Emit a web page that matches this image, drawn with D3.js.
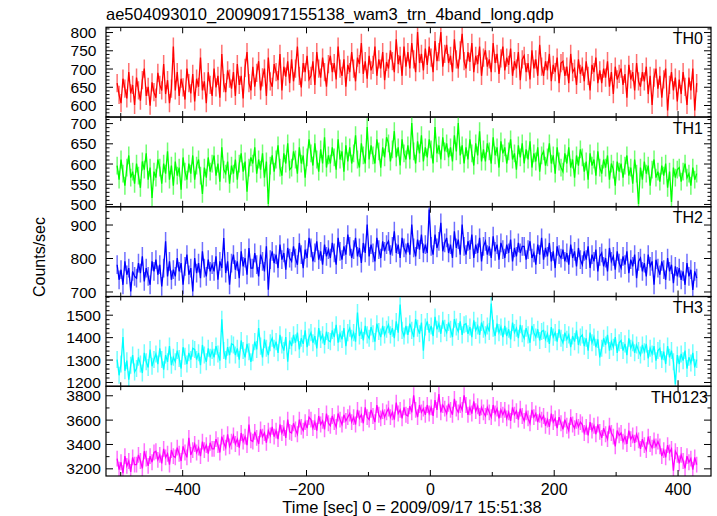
<!DOCTYPE html>
<html><head><meta charset="utf-8">
<script src="https://cdn.jsdelivr.net/npm/d3@7"></script>
<style>
body{margin:0;background:#fff}
svg{display:block}
text{font-family:"Liberation Sans",Arial,Helvetica,sans-serif;fill:#000}
</style>
</head><body>
<svg id="c" width="717" height="516"></svg>
<script>
// ---- data ----
const tStart = -505, tStep = 3.13;   // bin start time and spacing [sec]

const th0 = [
660,628,605,672,645,618,690,632,655,600,
675,640,612,668,700,625,650,598,662,635,
620,688,655,640,712,630,668,605,645,760,
640,690,625,672,648,615,700,660,632,685,
610,672,650,730,640,665,605,690,655,625,
700,648,680,620,740,660,635,695,672,645,
690,625,712,655,680,618,702,745,660,640,
705,650,688,720,640,676,700,625,730,665,
650,712,690,668,740,640,705,678,720,660,
725,665,700,760,680,648,715,690,735,670,
680,720,655,745,700,675,730,690,650,712,
735,690,715,670,760,700,680,725,650,710,
690,745,700,665,730,712,770,685,720,672,
735,695,710,760,680,725,700,745,668,718,
700,750,720,690,780,712,735,680,760,705,
745,700,770,725,690,800,715,740,695,755,
710,760,730,690,775,720,745,800,705,740,
765,715,735,690,780,725,700,750,795,720,
700,745,718,770,690,735,712,760,680,730,
750,705,725,690,770,715,740,685,728,760,
695,730,710,755,680,720,700,745,668,725,
735,690,715,670,750,700,725,680,765,705,
680,720,695,740,665,710,690,730,660,715,
720,680,705,660,740,690,700,655,725,685,
705,665,720,680,640,710,690,730,660,695,
660,700,675,720,650,690,630,705,670,685,
700,655,685,620,710,670,690,640,715,665,
650,690,665,705,630,680,600,675,700,645,
680,620,670,700,585,655,690,640,675,610,
670,630,690,650,600,675,640,700,585,660];

const th1 = [
595,560,610,575,545,590,620,565,580,550,
600,570,540,605,585,625,560,590,515,580,
565,610,590,550,600,575,630,560,595,545,
605,570,590,535,615,580,560,600,575,620,
560,595,610,570,525,590,565,615,580,600,
620,570,600,555,640,585,575,605,550,595,
575,610,560,600,625,580,605,530,590,615,
600,640,575,610,585,625,565,605,500,595,
620,580,610,645,590,570,625,600,650,585,
590,630,610,575,640,600,620,565,615,660,
625,595,650,610,580,635,600,665,590,620,
600,640,615,585,660,610,630,580,645,605,
640,600,625,670,610,590,650,620,600,690,
610,645,620,600,660,630,590,640,615,665,
650,605,635,680,615,640,595,660,625,610,
645,610,700,630,600,655,625,670,605,640,
615,660,635,600,690,625,645,610,665,630,
650,615,640,605,670,630,700,620,645,600,
640,610,660,625,595,650,620,680,605,635,
605,650,630,600,665,620,640,590,655,625,
640,600,630,660,610,625,585,645,615,650,
600,635,610,655,590,625,605,640,580,620,
630,595,615,650,600,620,575,640,605,590,
580,625,600,640,590,610,565,620,595,635,
615,580,605,560,625,595,610,570,630,590,
575,610,590,620,560,600,585,545,605,580,
600,565,595,620,570,590,550,610,575,500,
590,560,605,575,595,545,585,610,565,580,
555,595,570,600,540,580,505,590,565,585,
590,555,580,600,565,575,545,590,560,575];

const th2 = [
780,735,765,720,790,750,770,700,760,745,
740,785,755,805,730,770,745,720,790,760,
795,750,780,715,770,850,745,790,735,765,
745,800,760,785,720,775,810,750,770,700,
800,755,785,740,820,770,745,795,760,780,
760,805,735,790,770,860,755,790,720,785,
810,765,790,740,820,775,800,750,830,770,
770,815,780,745,810,790,760,835,705,795,
820,785,810,770,840,795,815,765,830,800,
790,835,800,780,845,810,770,825,800,860,
830,790,815,850,795,820,780,840,805,825,
800,845,815,780,860,820,795,835,810,870,
835,800,825,860,805,830,785,845,815,900,
805,840,815,790,860,825,800,850,820,840,
850,810,835,880,815,840,800,860,830,815,
845,810,900,830,805,855,825,870,815,840,
815,945,835,810,870,830,850,905,820,845,
860,815,840,800,880,830,855,810,900,835,
810,850,825,870,800,840,815,860,790,835,
850,810,835,800,865,820,840,795,845,825,
800,840,815,855,790,830,805,845,815,835,
835,795,825,850,800,815,780,840,810,860,
795,830,805,845,790,820,770,835,810,800,
825,790,815,780,840,800,820,775,830,795,
780,820,795,835,770,810,790,825,760,805,
815,775,800,760,830,790,805,765,820,785,
770,805,780,820,755,795,775,810,740,790,
800,760,785,745,810,775,790,720,795,770,
750,790,765,735,800,760,780,725,775,745,
770,735,760,720,785,745,765,705,760,740];

const th3 = [
1300,1230,1280,1400,1250,1295,1210,1275,1320,1245,
1260,1310,1280,1240,1330,1290,1265,1345,1270,1300,
1325,1280,1350,1300,1255,1320,1290,1360,1275,1310,
1290,1340,1305,1260,1355,1315,1280,1330,1300,1350,
1345,1300,1330,1275,1365,1320,1290,1350,1310,1340,
1310,1360,1325,1295,1480,1340,1300,1355,1320,1370,
1365,1320,1350,1300,1385,1340,1310,1370,1335,1290,
1330,1380,1345,1440,1360,1310,1390,1350,1320,1375,
1395,1350,1380,1330,1410,1365,1340,1400,1290,1385,
1360,1410,1375,1420,1345,1395,1370,1430,1355,1400,
1420,1375,1405,1350,1440,1390,1410,1365,1425,1385,
1380,1430,1400,1455,1375,1415,1390,1440,1360,1420,
1440,1395,1420,1380,1510,1405,1430,1385,1450,1410,
1395,1445,1415,1380,1460,1425,1400,1450,1410,1435,
1455,1410,1440,1395,1470,1420,1545,1430,1405,1450,
1410,1460,1430,1400,1480,1440,1415,1465,1340,1445,
1470,1420,1450,1405,1490,1435,1460,1415,1475,1440,
1420,1465,1435,1400,1480,1445,1425,1470,1410,1455,
1460,1415,1445,1400,1475,1430,1450,1410,1465,1435,
1410,1450,1425,1550,1440,1405,1460,1420,1445,1400,
1450,1405,1435,1390,1465,1420,1440,1395,1455,1415,
1395,1440,1410,1375,1450,1420,1400,1435,1385,1425,
1430,1390,1415,1370,1445,1400,1420,1380,1435,1395,
1375,1420,1390,1410,1355,1405,1380,1430,1365,1400,
1410,1360,1395,1340,1420,1375,1400,1355,1390,1310,
1350,1395,1365,1410,1340,1380,1355,1400,1330,1375,
1385,1340,1370,1320,1395,1350,1375,1330,1365,1340,
1320,1365,1335,1370,1305,1350,1325,1360,1295,1340,
1350,1300,1335,1280,1360,1310,1340,1290,1190,1320,
1280,1325,1295,1340,1260,1310,1285,1330,1265,1300];

const th0123 = [
3280,3190,3250,3160,3300,3220,3260,3170,3290,3230,
3230,3310,3260,3200,3340,3280,3220,3300,3250,3330,
3340,3270,3310,3240,3360,3290,3320,3230,3350,3300,
3290,3370,3320,3260,3380,3330,3290,3450,3310,3350,
3400,3330,3370,3300,3420,3350,3390,3320,3410,3360,
3360,3440,3390,3330,3460,3410,3370,3480,3380,3420,
3470,3400,3440,3370,3490,3420,3460,3390,3560,3430,
3420,3500,3450,3400,3520,3460,3490,3410,3510,3470,
3540,3460,3510,3440,3560,3490,3530,3450,3600,3500,
3490,3570,3520,3480,3600,3540,3510,3580,3530,3620,
3600,3530,3580,3510,3630,3560,3590,3520,3650,3570,
3550,3630,3580,3540,3650,3600,3560,3640,3590,3620,
3650,3580,3620,3560,3680,3610,3640,3570,3700,3620,
3600,3680,3630,3580,3720,3640,3610,3670,3620,3660,
3690,3620,3660,3600,3740,3650,3680,3610,3700,3640,
3630,3710,3660,3800,3680,3620,3720,3660,3690,3640,
3720,3650,3700,3630,3760,3680,3810,3660,3720,3690,
3650,3730,3680,3640,3770,3690,3660,3720,3680,3800,
3720,3640,3700,3650,3750,3670,3710,3630,3700,3660,
3630,3700,3660,3620,3720,3650,3690,3610,3680,3640,
3680,3610,3660,3590,3700,3640,3670,3600,3690,3630,
3590,3660,3610,3570,3680,3620,3650,3580,3640,3600,
3630,3550,3600,3540,3650,3580,3610,3530,3620,3570,
3520,3600,3550,3510,3620,3560,3530,3590,3540,3580,
3560,3490,3540,3470,3580,3510,3550,3480,3560,3500,
3450,3530,3480,3440,3550,3490,3460,3380,3510,3470,
3490,3420,3460,3400,3510,3440,3470,3410,3480,3430,
3360,3440,3390,3350,3460,3400,3370,3430,3380,3420,
3380,3300,3350,3290,3390,3330,3360,3180,3340,3310,
3240,3310,3260,3200,3300,3250,3280,3190,3290,3230];

const seriesValues = [th0, th1, th2, th3, th0123];
const panelNames = ["TH0", "TH1", "TH2", "TH3", "TH0123"];
const errs = [25, 22, 28, 38, 65];                 // 1-sigma error per bin
const yDomains = [[567, 813], [493, 715], [685, 953], [1181, 1581], [3137, 3874]];
const yMajor = [50, 50, 100, 100, 200];
const yMinor = [10, 10, 20, 20, 100];
const xDomain = [-523, 454];
const xMajorTicks = [-400, -200, 0, 200, 400];
const xMinorTicks = [-500, -300, -100, 100, 300];
const title = "ae504093010_20090917155138_wam3_trn_4band_long.qdp";
const xLabel = "Time [sec] 0 = 2009/09/17 15:51:38";
const yLabel = "Counts/sec";

// ---- styles / layout ----
const lineColors = ["#ff0000", "#00ff00", "#0000ff", "#00ffff", "#ff00ff"];
const errColors  = ["#ff7070", "#70ff70", "#7070ff", "#70ffff", "#ff70ff"];
const L = 106, R = 711, T = 27.3, B = 476;
const nP = panelNames.length, pH = (B - T) / nP;

const svg = d3.select("#c");
const x = d3.scaleLinear().domain(xDomain).range([L, R]);

svg.append("text").attr("x", 106).attr("y", 20).attr("font-size", 16.5).text(title);

panelNames.forEach((name, p) => {
  const top = T + p * pH, bot = top + pH;
  const y = d3.scaleLinear().domain(yDomains[p]).range([bot, top]);
  const vals = seriesValues[p];
  const times = vals.map((_, i) => tStart + i * tStep);
  const g = svg.append("g");

  const cid = "clip" + p;
  svg.append("clipPath").attr("id", cid).append("rect")
     .attr("x", L).attr("y", top).attr("width", R - L).attr("height", pH);
  const dg = g.append("g").attr("clip-path", `url(#${cid})`);

  dg.selectAll("line.err").data(vals).join("line")
    .attr("x1", (d, i) => x(times[i])).attr("x2", (d, i) => x(times[i]))
    .attr("y1", d => y(d - errs[p])).attr("y2", d => y(d + errs[p]))
    .attr("stroke", errColors[p]).attr("stroke-width", 1.5);

  dg.append("path").datum(vals)
    .attr("d", d3.line().x((d, i) => x(times[i])).y(d => y(d)))
    .attr("fill", "none").attr("stroke", lineColors[p]).attr("stroke-width", 1.3);

  // y ticks
  const [d0, d1] = yDomains[p];
  const minorVals = d3.range(Math.ceil(d0 / yMinor[p]) * yMinor[p], d1, yMinor[p])
                      .filter(v => v % yMajor[p] !== 0);
  const majorVals = d3.range(Math.ceil(d0 / yMajor[p]) * yMajor[p], d1, yMajor[p]);
  const rmDomain = s => s.select(".domain").remove();

  g.append("g").attr("transform", `translate(${L},0)`)
    .call(d3.axisLeft(y).tickValues(majorVals).tickSize(-7).tickPadding(0).tickFormat(d3.format("d")))
    .call(rmDomain)
    .call(s => {
      s.attr("font-family", null);
      s.selectAll("text").attr("x", -22.5).attr("text-anchor", "middle")
       .attr("font-size", 15.5).attr("dy", "0.36em");
    });
  g.append("g").attr("transform", `translate(${L},0)`)
    .call(d3.axisLeft(y).tickValues(minorVals).tickSize(-3.5).tickFormat(""))
    .call(rmDomain);
  g.append("g").attr("transform", `translate(${R},0)`)
    .call(d3.axisRight(y).tickValues(majorVals).tickSize(-7).tickFormat(""))
    .call(rmDomain);
  g.append("g").attr("transform", `translate(${R},0)`)
    .call(d3.axisRight(y).tickValues(minorVals).tickSize(-3.5).tickFormat(""))
    .call(rmDomain);

  // x ticks top and bottom of each panel
  g.append("g").attr("transform", `translate(0,${top})`)
    .call(d3.axisTop(x).tickValues(xMajorTicks).tickSize(-6).tickFormat("")).call(rmDomain);
  g.append("g").attr("transform", `translate(0,${top})`)
    .call(d3.axisTop(x).tickValues(xMinorTicks).tickSize(-4).tickFormat("")).call(rmDomain);
  const bx = g.append("g").attr("transform", `translate(0,${bot})`)
    .call(d3.axisBottom(x).tickValues(xMajorTicks).tickSize(-6)
      .tickFormat(p === nP - 1 ? (d => d3.format("d")(d).replace("-", "\u2212")) : ""))
    .call(rmDomain);
  bx.attr("font-family", null);
  bx.selectAll("text").attr("y", 18.5).attr("dy", null).attr("font-size", 16);
  g.append("g").attr("transform", `translate(0,${bot})`)
    .call(d3.axisBottom(x).tickValues(xMinorTicks).tickSize(-4).tickFormat("")).call(rmDomain);

  g.selectAll(".tick line").attr("stroke", "#000").attr("stroke-width", 1);

  g.append("rect").attr("x", L).attr("y", top).attr("width", R - L).attr("height", pH)
    .attr("fill", "none").attr("stroke", "#000").attr("stroke-width", 1.2);

  g.append("text").attr("x", name.length > 3 ? 708 : 703).attr("y", top + 16.5)
    .attr("text-anchor", "end").attr("font-size", 16).text(name);
});

svg.append("text").attr("x", 412).attr("y", 513).attr("text-anchor", "middle")
   .attr("font-size", 16.5).text(xLabel);
svg.append("text").attr("transform", "translate(45,257) rotate(-90)")
   .attr("text-anchor", "middle").attr("font-size", 16).text(yLabel);
</script>
</body></html>
